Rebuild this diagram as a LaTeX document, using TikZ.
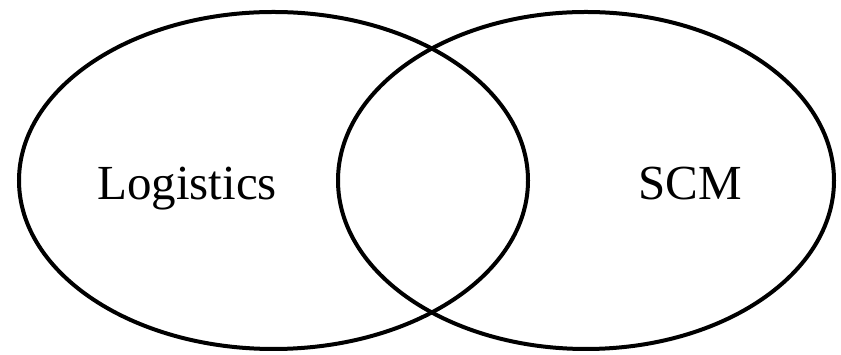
\documentclass[tikz,border=0pt]{standalone}
\usepackage{fontspec}
\setmainfont{Liberation Serif}
\begin{document}
\begin{tikzpicture}[x=1pt,y=1pt,
  ring/.style={draw=black,line width=4pt},
  lbl/.style={font=\fontsize{49}{55}\selectfont,inner sep=0pt,anchor=base west}]
\useasboundingbox (0,0) rectangle (841,355);
\draw[ring] (273.5,174.5) ellipse [x radius=254.5,y radius=168.5];
\draw[ring] (586,174.5) ellipse [x radius=248,y radius=168.5];
\node[lbl] (log) at (97,155) {Logistics};
\node[lbl] (scm) at (638,155) {SCM};
\end{tikzpicture}
\end{document}
